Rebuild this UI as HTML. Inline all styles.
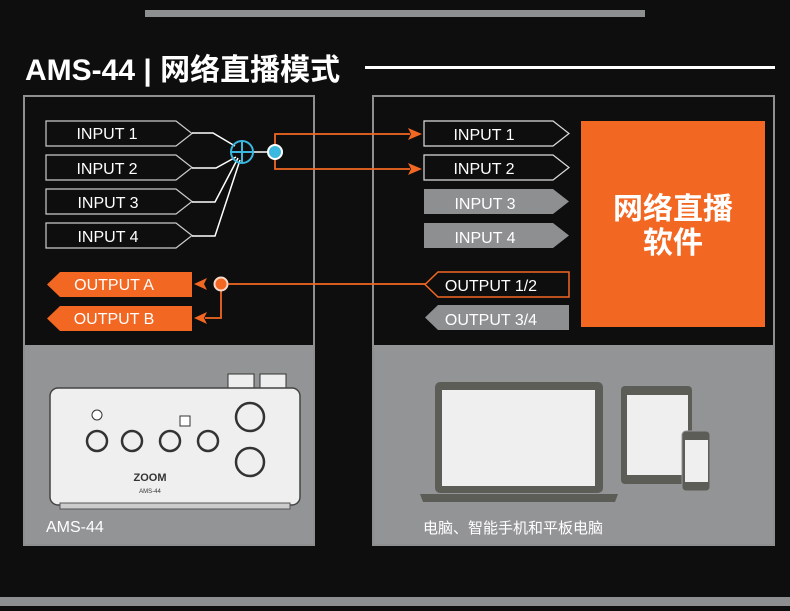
<!DOCTYPE html>
<html><head><meta charset="utf-8"><style>
body{margin:0;width:790px;height:606px;background:#0e0e0e;overflow:hidden;font-family:"Liberation Sans","Noto Sans CJK SC",sans-serif}
</style></head><body>
<svg width="790" height="606" viewBox="0 0 790 606" xmlns="http://www.w3.org/2000/svg" font-family="Liberation Sans, Noto Sans CJK SC, sans-serif">
<rect width="790" height="606" fill="#0e0e0e"/>
<rect x="145" y="10" width="500" height="7" fill="#8e8f91"/>
<rect x="0" y="597" width="790" height="9" fill="#8e8f91"/>
<text x="25" y="80" fill="#fff" font-size="30" font-weight="bold">AMS-44 | 网络直播模式</text>
<rect x="365" y="66" width="410" height="3" fill="#fff"/>
<rect x="24" y="96" width="290" height="449" fill="#939496" stroke="#8e8f91" stroke-width="2"/>
<rect x="25" y="97" width="288" height="248" fill="#0e0e0e"/>
<rect x="373" y="96" width="401" height="449" fill="#939496" stroke="#8e8f91" stroke-width="2"/>
<rect x="374" y="97" width="399" height="248" fill="#0e0e0e"/>
<g font-size="16" fill="#fff" text-anchor="middle">
<g fill="none" stroke="#ccc" stroke-width="1.2">
<path d="M46 121H176L192 133.5L176 146H46Z"/>
<path d="M46 155H176L192 167.5L176 180H46Z"/>
<path d="M46 189H176L192 201.5L176 214H46Z"/>
<path d="M46 223H176L192 235.5L176 248H46Z"/>
</g>
<text x="107" y="139">INPUT 1</text>
<text x="107" y="174">INPUT 2</text>
<text x="108" y="208">INPUT 3</text>
<text x="108" y="242">INPUT 4</text>
<g fill="none" stroke="#fff" stroke-width="1.5">
<path d="M192 133H213L235 146"/><path d="M192 168H216L236 157"/><path d="M192 202H215L238 158"/><path d="M192 236H215L240 160"/>
<path d="M253 152H270"/>
</g>
<circle cx="242" cy="152" r="11" fill="none" stroke="#3bb8e0" stroke-width="2"/>
<path d="M231 152H253M242 141V163" stroke="#3bb8e0" stroke-width="2"/>
<path d="M275 152V134H410M275 152V169H410" fill="none" stroke="#f26722" stroke-width="1.8"/>
<path d="M422 134L408 128L411 134L408 140Z M422 169L408 163L411 169L408 175Z" fill="#f26722"/>
<circle cx="275" cy="152" r="7" fill="#3bb8e0" stroke="#fff" stroke-width="2"/>
<path d="M60 272H192V297H60L47 284.5Z" fill="#f26722"/>
<path d="M60 306H192V331H60L47 318.5Z" fill="#f26722"/>
<text x="114" y="290">OUTPUT A</text>
<text x="114" y="324">OUTPUT B</text>
<path d="M227 284H426M221 290V318H205" fill="none" stroke="#f26722" stroke-width="1.8"/>
<path d="M194 284L207 278L204 284L207 290Z M194 318L207 312L204 318L207 324Z" fill="#f26722"/>
<circle cx="221" cy="284" r="6.5" fill="#f26722" stroke="#f6d9c8" stroke-width="2"/>
<g fill="none" stroke="#ddd" stroke-width="1.2">
<path d="M424 121H553L569 133.5L553 146H424Z"/>
<path d="M424 155H553L569 167.5L553 180H424Z"/>
</g>
<path d="M424 189H553L569 201.5L553 214H424Z" fill="#8e8f91"/>
<path d="M424 223H553L569 235.5L553 248H424Z" fill="#8e8f91"/>
<text x="484" y="140">INPUT 1</text>
<text x="484" y="174">INPUT 2</text>
<text x="485" y="209">INPUT 3</text>
<text x="485" y="243">INPUT 4</text>
<path d="M438 272H569V297H438L425 284.5Z" fill="none" stroke="#f26722" stroke-width="1.5"/>
<path d="M438 305H569V330H438L425 317.5Z" fill="#8e8f91"/>
<text x="491" y="291">OUTPUT 1/2</text>
<text x="491" y="325">OUTPUT 3/4</text>
</g>
<rect x="581" y="121" width="184" height="206" fill="#f26722"/>
<text x="673" y="219" fill="#fff" font-size="30" font-weight="bold" text-anchor="middle">网络直播</text>
<text x="673" y="253" fill="#fff" font-size="30" font-weight="bold" text-anchor="middle">软件</text>
<rect x="228" y="374" width="26" height="16" fill="#eee" stroke="#333"/>
<rect x="260" y="374" width="26" height="16" fill="#eee" stroke="#333"/>
<rect x="50" y="388" width="250" height="117" rx="8" fill="#efefef" stroke="#444" stroke-width="1.5"/>
<rect x="60" y="503" width="230" height="6" fill="#ccc" stroke="#555"/>
<g fill="#efefef" stroke="#333" stroke-width="2.5">
<circle cx="97" cy="441" r="10"/><circle cx="132" cy="441" r="10"/><circle cx="170" cy="441" r="10"/><circle cx="208" cy="441" r="10"/>
<circle cx="250" cy="417" r="14"/><circle cx="250" cy="462" r="14"/>
</g>
<circle cx="97" cy="415" r="5" fill="#fff" stroke="#333"/>
<rect x="180" y="416" width="10" height="10" fill="#fff" stroke="#333"/>
<text x="150" y="481" font-size="11" font-weight="bold" fill="#333" text-anchor="middle">ZOOM</text>
<text x="150" y="493" font-size="6" fill="#333" text-anchor="middle">AMS-44</text>
<text x="46" y="532" fill="#fff" font-size="16">AMS-44</text>
<rect x="435" y="382" width="168" height="111" rx="5" fill="#5d5d58"/>
<rect x="442" y="390" width="153" height="96" fill="#efefef"/>
<path d="M420 494H618L615 502H423Z" fill="#5d5d58"/>
<rect x="621" y="386" width="71" height="98" rx="4" fill="#5d5d58"/>
<rect x="627" y="395" width="61" height="80" fill="#efefef"/>
<rect x="682" y="431" width="28" height="60" rx="4" fill="#5d5d58" stroke="#939496" stroke-width="1"/>
<rect x="685" y="440" width="23" height="42" fill="#efefef"/>
<text x="423" y="533" fill="#fff" font-size="15">电脑、智能手机和平板电脑</text>
</svg>
</body></html>
